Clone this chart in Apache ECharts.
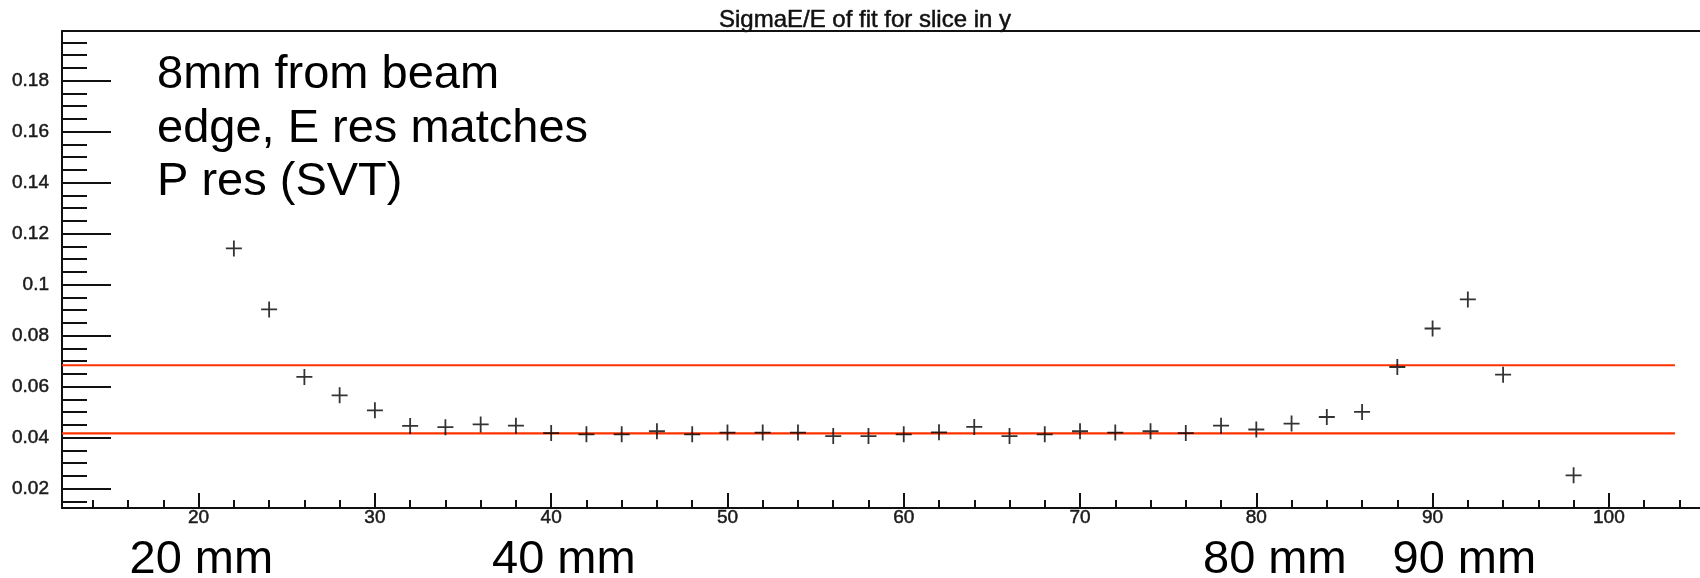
<!DOCTYPE html>
<html>
<head>
<meta charset="utf-8">
<style>
  html, body { margin: 0; padding: 0; background: #fff; }
  #chart { width: 1700px; height: 578px; }
</style>
<script src="https://cdn.jsdelivr.net/npm/echarts@6/dist/echarts.min.js"></script>
</head>
<body>
<div id="chart"></div>
<script>
// Slice position in y (mm) and fitted sigmaE/E for each slice
const sliceY = [22, 24, 26, 28, 30, 32, 34, 36, 38, 40, 42, 44, 46, 48, 50, 52, 54, 56, 58,
                60, 62, 64, 66, 68, 70, 72, 74, 76, 78, 80, 82, 84, 86, 88, 90, 92, 94, 98];
const sigmaE = [0.1142, 0.0903, 0.0638, 0.0566, 0.0507, 0.0446, 0.0441, 0.0452, 0.0447, 0.0418,
                0.0413, 0.0413, 0.0425, 0.0413, 0.0420, 0.0420, 0.0420, 0.0406, 0.0406, 0.0413,
                0.0421, 0.0442, 0.0406, 0.0413, 0.0425, 0.0420, 0.0425, 0.0418, 0.0447, 0.0432,
                0.0455, 0.0481, 0.0501, 0.0677, 0.0828, 0.0942, 0.0647, 0.0252];

// Reference levels (horizontal red lines) and their x extent
const refLevels = [0.0684, 0.0417];
const refRange = [12.25, 103.75];

// Axis ranges and tick positions
const xRange = [12.25, 105.17];
const yRange = [0.0124, 0.1995];
const xMajorTicks = [20, 30, 40, 50, 60, 70, 80, 90, 100];
const xMinorTicks = [14, 16, 18, 22, 24, 26, 28, 32, 34, 36, 38, 42, 44, 46, 48, 52, 54, 56, 58,
                     62, 64, 66, 68, 72, 74, 76, 78, 82, 84, 86, 88, 92, 94, 96, 98, 102, 104];
const yMajorTicks = [0.02, 0.04, 0.06, 0.08, 0.1, 0.12, 0.14, 0.16, 0.18];
const yMinorTicks = [0.015, 0.025, 0.03, 0.035, 0.045, 0.05, 0.055, 0.065, 0.07, 0.075,
                     0.085, 0.09, 0.095, 0.105, 0.11, 0.115, 0.125, 0.13, 0.135, 0.145,
                     0.15, 0.155, 0.165, 0.17, 0.175, 0.185, 0.19, 0.195];

// Text drawn on the canvas
const titleText = 'SigmaE/E of fit for slice in y';
const noteLines = ['8mm from beam', 'edge, E res matches', 'P res (SVT)'];
const mmLabels = ['20 mm', '40 mm', '80 mm', '90 mm'];

const FONT = '"Liberation Sans", Arial, Helvetica, sans-serif';
const AXIS_COLOR = '#111';

const chart = echarts.init(document.getElementById('chart'), null, { renderer: 'canvas' });

const plusSymbol = 'path://M7.1,0H8.9V7.1H16V8.9H8.9V16H7.1V8.9H0V7.1H7.1Z';

const xBase = { type: 'value', min: xRange[0], max: xRange[1], splitLine: { show: false } };
const yBase = { type: 'value', min: yRange[0], max: yRange[1], splitLine: { show: false } };

// small-label style: slightly heavier strokes, like the plotting package's Helvetica
const tickLabelStyle = { color: '#1a1a1a', fontSize: 19, fontFamily: FONT,
                         textBorderColor: '#1a1a1a', textBorderWidth: 0.5 };

const mmX = [129.5, 492, 1203, 1392.5];

const option = {
  backgroundColor: '#fff',
  animation: false,
  grid: { left: 62, top: 31, right: 0, bottom: 70, containLabel: false },
  xAxis: [
    Object.assign({}, xBase, {
      position: 'bottom',
      axisLine: { show: true, onZero: false, lineStyle: { color: AXIS_COLOR, width: 2 } },
      axisTick: { show: true, inside: true, length: 15, customValues: xMajorTicks,
                  lineStyle: { color: AXIS_COLOR, width: 2 } },
      axisLabel: Object.assign({ show: true, customValues: xMajorTicks, margin: 0 }, tickLabelStyle)
    }),
    Object.assign({}, xBase, {
      position: 'bottom',
      axisLine: { show: false },
      axisTick: { show: true, inside: true, length: 8, customValues: xMinorTicks,
                  lineStyle: { color: AXIS_COLOR, width: 2 } },
      axisLabel: { show: false, customValues: xMinorTicks }
    }),
    Object.assign({}, xBase, {
      position: 'top',
      axisLine: { show: true, onZero: false, lineStyle: { color: AXIS_COLOR, width: 2 } },
      axisTick: { show: false },
      axisLabel: { show: false }
    })
  ],
  yAxis: [
    Object.assign({}, yBase, {
      position: 'left',
      axisLine: { show: true, onZero: false, lineStyle: { color: AXIS_COLOR, width: 2 } },
      axisTick: { show: true, inside: true, length: 49, customValues: yMajorTicks,
                  lineStyle: { color: AXIS_COLOR, width: 2 } },
      axisLabel: Object.assign({ show: true, customValues: yMajorTicks, margin: 13,
                   padding: [5, 0, 0, 0],
                   formatter: v => String(+v.toFixed(3)) }, tickLabelStyle)
    }),
    Object.assign({}, yBase, {
      position: 'left',
      axisLine: { show: false },
      axisTick: { show: true, inside: true, length: 25, customValues: yMinorTicks,
                  lineStyle: { color: AXIS_COLOR, width: 2 } },
      axisLabel: { show: false, customValues: yMinorTicks }
    })
  ],
  series: [
    ...refLevels.map(level => ({
      type: 'line',
      xAxisIndex: 0,
      yAxisIndex: 0,
      data: refRange.map(x => [x, level]),
      symbol: 'none',
      lineStyle: { color: '#ff3300', width: 2.2 },
      z: 3
    })),
    {
      type: 'scatter',
      xAxisIndex: 0,
      yAxisIndex: 0,
      data: sliceY.map((x, i) => [x, sigmaE[i]]),
      symbol: plusSymbol,
      symbolSize: 16,
      itemStyle: { color: '#000' },
      z: 4
    }
  ],
  graphic: [
    {
      type: 'text', x: 865, y: 20,
      style: { text: titleText, fontSize: 24, fontFamily: FONT, fill: '#111',
               stroke: '#111', lineWidth: 0.5,
               align: 'center', verticalAlign: 'middle' },
      z: 10
    },
    {
      type: 'text', x: 157, y: 48.5,
      style: { text: noteLines.join('\n'), fontSize: 47, lineHeight: 53.5, fontFamily: FONT,
               fill: '#000', align: 'left', verticalAlign: 'top' },
      z: 10
    },
    ...mmLabels.map((t, i) => ({
      type: 'text', x: mmX[i], y: 560.5,
      style: { text: t, fontSize: 47, fontFamily: FONT, fill: '#000',
               align: 'left', verticalAlign: 'middle' },
      z: 10
    }))
  ]
};

chart.setOption(option);
</script>
</body>
</html>
